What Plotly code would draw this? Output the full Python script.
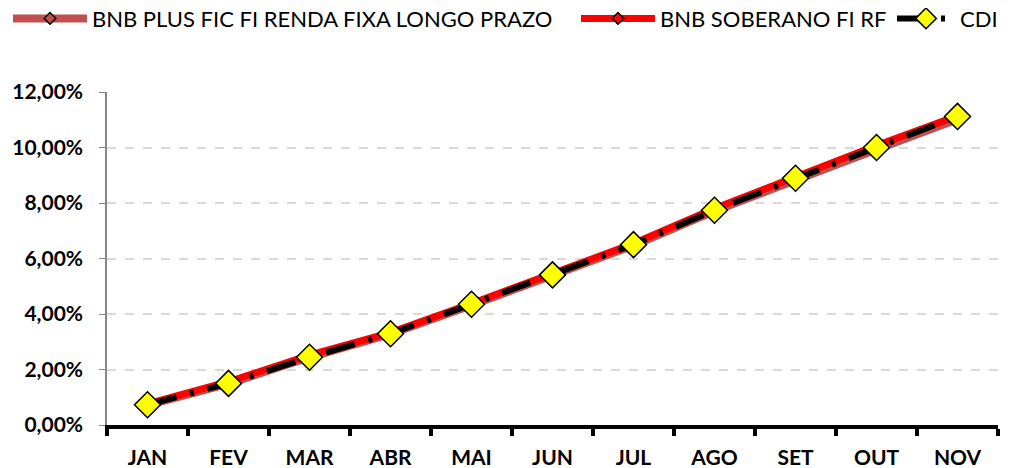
import plotly.graph_objects as go

months = ["JAN", "FEV", "MAR", "ABR", "MAI", "JUN", "JUL", "AGO", "SET", "OUT", "NOV"]
bnb_plus = [0.72, 1.49, 2.44, 3.28, 4.32, 5.40, 6.47, 7.71, 8.84, 9.93, 11.02]
bnb_soberano = [0.76, 1.56, 2.52, 3.33, 4.38, 5.47, 6.54, 7.80, 8.95, 10.07, 11.14]
cdi = [0.73, 1.50, 2.44, 3.29, 4.35, 5.41, 6.50, 7.74, 8.89, 10.00, 11.12]

fig = go.Figure()
fig.add_trace(go.Scatter(
    x=months, y=bnb_plus, name="BNB PLUS FIC FI RENDA FIXA LONGO PRAZO",
    mode="lines+markers", legend="legend",
    line=dict(color="#C0504D", width=8),
    marker=dict(symbol="diamond", size=9, color="#C0504D", line=dict(color="black", width=1.5)),
))
fig.add_trace(go.Scatter(
    x=months, y=bnb_soberano, name="BNB SOBERANO FI RF",
    mode="lines+markers", legend="legend2",
    line=dict(color="#FF0000", width=7),
    marker=dict(symbol="diamond", size=9, color="#FF0000", line=dict(color="black", width=1.5)),
))
fig.add_trace(go.Scatter(
    x=months, y=cdi, name="CDI",
    mode="lines+markers", legend="legend3",
    line=dict(color="black", width=6, dash="30px,14px,4px,14px"),
    marker=dict(symbol="diamond", size=20, color="#FFFF00", line=dict(color="black", width=1.5)),
))

leg_common = dict(
    orientation="h", y=0.977, yanchor="middle", xanchor="left",
    yref="container", xref="container",
    font=dict(size=22, family="Lato, sans-serif", color="black"),
    bgcolor="rgba(0,0,0,0)",
)

fig.update_layout(
    width=1016, height=460,
    margin=dict(l=99, r=26, t=84, b=43),
    paper_bgcolor="white", plot_bgcolor="white",
    separators=",.",
    font=dict(family="Lato, Open Sans, sans-serif", color="black"),
    showlegend=True,
    legend=dict(x=0.0, itemwidth=74, **leg_common),
    legend2=dict(x=568 / 1016, itemwidth=74, **leg_common),
    legend3=dict(x=884 / 1016, itemwidth=58, **leg_common),
    xaxis=dict(
        type="category", showgrid=False, automargin=False,
        showline=True, linecolor="black", linewidth=4,
        ticks="outside", tickson="boundaries", ticklen=7, tickwidth=4, tickcolor="black",
        tickfont=dict(size=21, family="Lato, sans-serif", weight="bold", color="black"),
        ticklabelstandoff=11,
        range=[-0.5, 10.5],
    ),
    yaxis=dict(
        range=[0, 12], dtick=2, automargin=False,
        tickformat=".2f", ticksuffix="%",
        showgrid=True, gridcolor="#D9D9D9", gridwidth=1.5, griddash="dash",
        showline=True, linecolor="#868686", linewidth=1.5,
        ticks="outside", ticklen=6, tickcolor="#868686",
        tickfont=dict(size=21, family="Lato, sans-serif", weight="bold", color="black"),
        ticklabelstandoff=12,
        zeroline=False,
    ),
)

fig.write_html("out.html")
